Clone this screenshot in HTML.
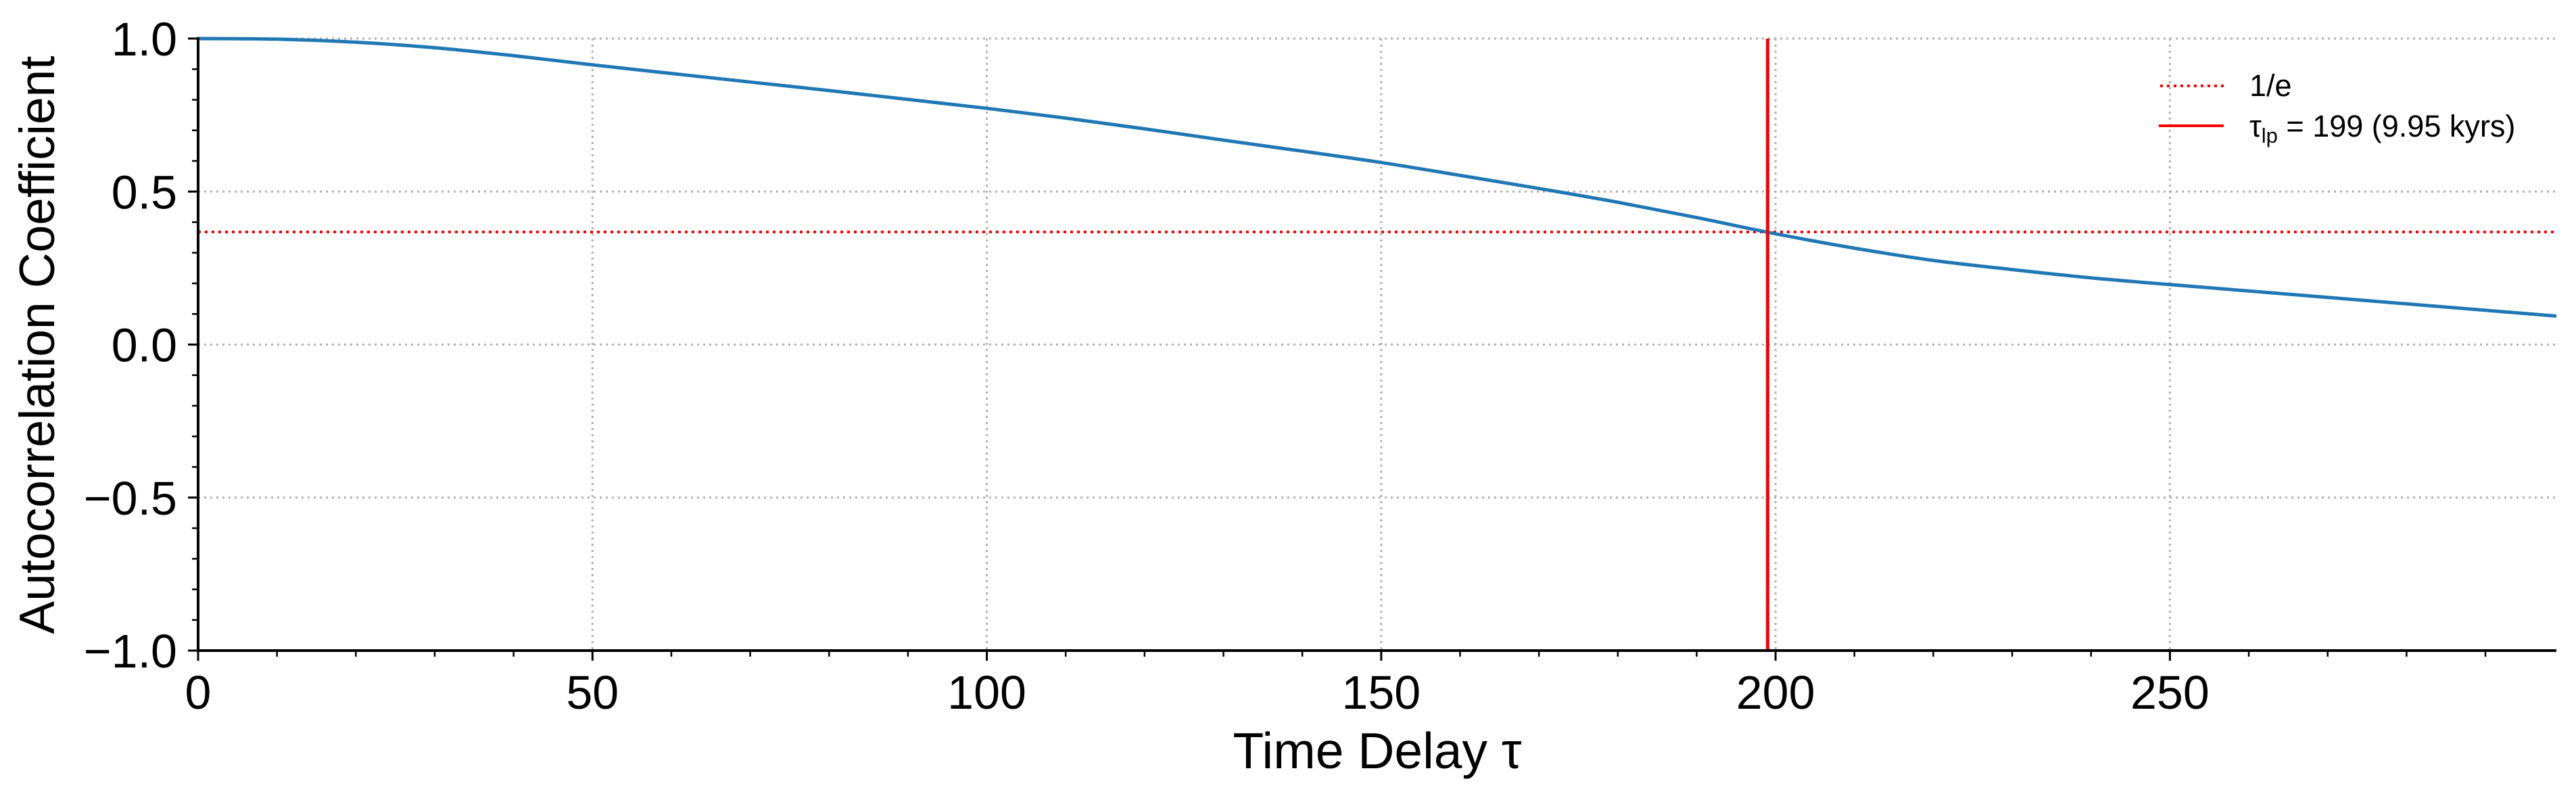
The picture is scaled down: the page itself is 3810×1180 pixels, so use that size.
<!DOCTYPE html>
<html><head><meta charset="utf-8"><style>
html,body{margin:0;padding:0;background:#fff;}
svg{display:block;font-family:"Liberation Sans",Arial,sans-serif;}
</style></head><body>
<svg id="chart" width="3810" height="1180" viewBox="0 0 3810 1180" xmlns="http://www.w3.org/2000/svg">
<rect width="3810" height="1180" fill="#fff"/>
<g id="grid"></g>
<g id="series"></g>
<g id="axes"></g>
<text x="2037" y="1136" font-size="75" text-anchor="middle">Time Delay τ</text>
<text transform="translate(80,510) rotate(-90)" font-size="73" text-anchor="middle">Autocorrelation Coefficient</text>
<g>
  <line x1="3195" y1="127" x2="3289" y2="127" stroke="#ff0000" stroke-width="4" stroke-dasharray="4,6"/>
  <text x="3327" y="142" font-size="45">1/e</text>
  <line x1="3193" y1="186" x2="3289" y2="186" stroke="#ff0000" stroke-width="4"/>
  <text x="3327" y="202" font-size="45">τ<tspan font-size="31" dy="9">lp</tspan><tspan dy="-9"> = 199 (9.95 kyrs)</tspan></text>
</g>
</svg>
<script>
const lags = [0,10,20,30,40,50,60,70,80,90,100,110,120,130,140,150,160,170,180,190,200,210,220,230,240,250,260,270,280,290,299];
const acf = [1.0,0.998,0.988,0.97,0.944,0.914,0.886,0.858,0.83,0.801,0.772,0.74,0.705,0.668,0.632,0.595,0.553,0.51,0.465,0.415,0.362,0.315,0.275,0.245,0.218,0.196,0.175,0.154,0.133,0.112,0.093];
const xTicks = [0,50,100,150,200,250];
const yTicks = [-1.0,-0.5,0.0,0.5,1.0];
const yTickLabels = ["\u22121.0","\u22120.5","0.0","0.5","1.0"];
const invE = 0.3679;
const tauLp = 199;

const X0=293, X1=3781, Y0=962, Y1=57, XMAX=299;
const sx = v => X0 + (v/XMAX)*(X1-X0);
const sy = v => Y0 - (v+1)/2*(Y0-Y1);
const NS="http://www.w3.org/2000/svg";
function mk(tag, attrs, parent){const e=document.createElementNS(NS,tag);for(const k in attrs)e.setAttribute(k,attrs[k]);parent.appendChild(e);return e;}
const grid=document.getElementById('grid'), series=document.getElementById('series'), axes=document.getElementById('axes');

xTicks.forEach(t=>{
  const l=mk('line',{x1:sx(t),x2:sx(t),y1:Y1,y2:Y0,stroke:'#b0b0b0','stroke-width':3,'stroke-dasharray':'3,6'},grid);
  
  
});
yTicks.forEach(t=>{
  const l=mk('line',{x1:X0,x2:X1,y1:sy(t),y2:sy(t),stroke:'#b0b0b0','stroke-width':3,'stroke-dasharray':'3,6'},grid);
  
  
});

const ie=mk('line',{x1:X0,x2:X1,y1:sy(invE),y2:sy(invE),stroke:'#ff0000','stroke-width':4,'stroke-dasharray':'4,6'},series);



// smooth path (Catmull-Rom) through data points
const P=lags.map((l,i)=>[sx(l),sy(acf[i])]);
let d='M'+P[0][0].toFixed(1)+','+P[0][1].toFixed(1);
for(let i=0;i<P.length-1;i++){
  const p0=P[Math.max(0,i-1)],p1=P[i],p2=P[i+1],p3=P[Math.min(P.length-1,i+2)];
  const c1=[p1[0]+(p2[0]-p0[0])/6,p1[1]+(p2[1]-p0[1])/6];
  const c2=[p2[0]-(p3[0]-p1[0])/6,p2[1]-(p3[1]-p1[1])/6];
  d+=' C'+c1[0].toFixed(1)+','+c1[1].toFixed(1)+' '+c2[0].toFixed(1)+','+c2[1].toFixed(1)+' '+p2[0].toFixed(1)+','+p2[1].toFixed(1);
}
const pl=mk('path',{d:d,fill:'none',stroke:'#1f77b4','stroke-width':5,'stroke-linejoin':'round'},series);



const tl=mk('line',{x1:sx(tauLp),x2:sx(tauLp),y1:Y1,y2:Y0,stroke:'#ff0000','stroke-width':5},series);



const ya=mk('line',{x1:X0,x2:X0,y1:Y1-2,y2:Y0+2,stroke:'#000','stroke-width':4},axes);


const xa=mk('line',{x1:X0-2,x2:X1,y1:Y0,y2:Y0,stroke:'#000','stroke-width':4},axes);



for(let v=0; v<=XMAX; v+=10){
  const major = v%50===0;
  const t=mk('line',{x1:sx(v),x2:sx(v),y1:Y0,y2:Y0+(major?15:9),stroke:'#000','stroke-width':major?3:2.5},axes);
  
  
}
xTicks.forEach(t=>{
  const e=mk('text',{x:sx(t),y:1048,'font-size':70,'text-anchor':'middle'},axes);
  e.textContent=String(t);
  
  
});
for(let k=-10;k<=10;k++){
  const v=k/10, major=(k%5===0);
  const t=mk('line',{x1:X0-(major?15:9),x2:X0,y1:sy(v),y2:sy(v),stroke:'#000','stroke-width':major?3:2.5},axes);
  
  
}
yTicks.forEach((t,i)=>{
  const e=mk('text',{x:262,y:sy(t)+25,'font-size':70,'text-anchor':'end'},axes);
  e.textContent=yTickLabels[i];
  
  
});
</script>
</body></html>
